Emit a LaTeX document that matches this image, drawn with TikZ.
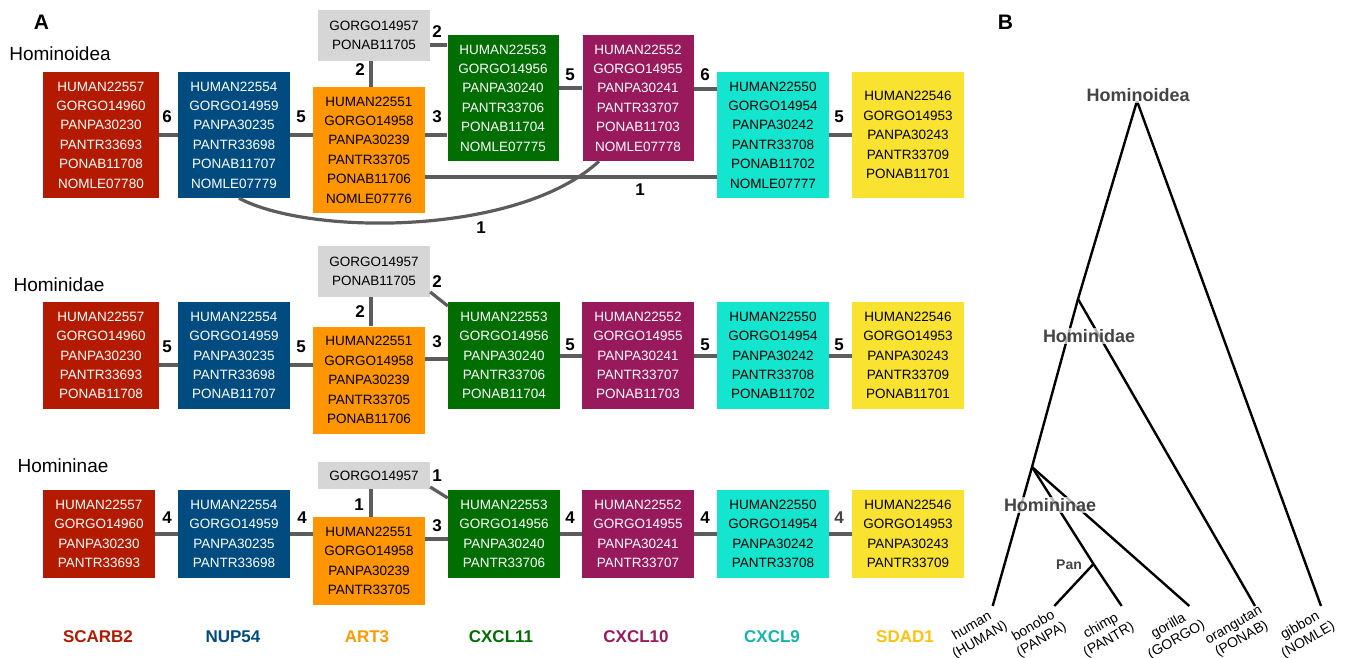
\documentclass[tikz,border=0pt]{standalone}
\usepackage{fontspec}
\setmainfont{Liberation Sans}
\usetikzlibrary{calc}
\definecolor{cRed}{HTML}{B41A00}
\definecolor{cBlue}{HTML}{004C80}
\definecolor{cOrange}{HTML}{FF9500}
\definecolor{cGreen}{HTML}{006E00}
\definecolor{cPurple}{HTML}{981A5C}
\definecolor{cCyan}{HTML}{14E5CF}
\definecolor{cYellow}{HTML}{F9E230}
\definecolor{cGray}{HTML}{D6D6D6}
\definecolor{cEdge}{HTML}{5C5C5C}
\definecolor{lCyan}{HTML}{12B5A6}
\definecolor{lYellow}{HTML}{FFC20E}
\definecolor{lOrange}{HTML}{FF9A00}
\definecolor{treeGray}{HTML}{444444}
\begin{document}
\begin{tikzpicture}[x=1pt,y=-1pt,
  box/.style={rectangle, inner sep=0pt, align=center, font=\fontsize{13.5}{19.4}\selectfont, minimum width=112pt},
  wbox/.style={box, text=white},
  kbox/.style={box, text=black},
  hsix/.style={minimum height=126pt},
  hfive/.style={minimum height=107pt},
  hfour/.style={minimum height=88pt},
  htwo/.style={minimum height=51pt},
  hone/.style={minimum height=27pt},
  edge/.style={draw=cEdge, line width=3.2pt},
  num/.style={font=\fontsize{17}{20}\selectfont\bfseries, inner sep=0pt},
  leg/.style={font=\fontsize{17}{20}\selectfont\bfseries, inner sep=0pt},
  rowtitle/.style={font=\fontsize{19}{22}\selectfont, inner sep=0pt},
  panel/.style={font=\fontsize{21}{24}\selectfont\bfseries, inner sep=0pt},
  branch/.style={line width=2.4pt, black},
  clade/.style={font=\fontsize{18}{20}\selectfont\bfseries, text=treeGray, fill=white, fill opacity=0.7, text opacity=1, inner sep=1.5pt},
  leaf/.style={font=\fontsize{14}{16}\selectfont, align=center, rotate=30, anchor=north, inner sep=0pt}
]
\useasboundingbox (0,0) rectangle (1345,657);

% panel letters and row titles
\node[panel] (pA) at (41.5,22.5) {A};
\node[panel] (pB) at (1005.5,22.5) {B};
\node[rowtitle] (t1) at (60,54) {Hominoidea};
\node[rowtitle] (t2) at (59,285) {Hominidae};
\node[rowtitle] (t3) at (63,466) {Homininae};

% ---------- Row 1: Hominoidea ----------
\node[wbox, hsix, fill=cRed, minimum width=116pt] (r1) at (101,135) {HUMAN22557\\GORGO14960\\PANPA30230\\PANTR33693\\PONAB11708\\NOMLE07780};
\node[wbox, hsix, fill=cBlue] (b1) at (234,135) {HUMAN22554\\GORGO14959\\PANPA30235\\PANTR33698\\PONAB11707\\NOMLE07779};
\node[kbox, hsix, fill=cOrange] (o1) at (369,150) {HUMAN22551\\GORGO14958\\PANPA30239\\PANTR33705\\PONAB11706\\NOMLE07776};
\node[kbox, htwo, fill=cGray] (g1) at (374,35.5) {GORGO14957\\PONAB11705};
\node[wbox, hsix, fill=cGreen, minimum width=111pt] (gr1) at (503,98) {HUMAN22553\\GORGO14956\\PANPA30240\\PANTR33706\\PONAB11704\\NOMLE07775};
\node[wbox, hsix, fill=cPurple, minimum width=111pt] (p1) at (638,98) {HUMAN22552\\GORGO14955\\PANPA30241\\PANTR33707\\PONAB11703\\NOMLE07778};
\node[kbox, hsix, fill=cCyan] (c1) at (773,135) {HUMAN22550\\GORGO14954\\PANPA30242\\PANTR33708\\PONAB11702\\NOMLE07777};
\node[kbox, hsix, fill=cYellow] (y1) at (908,135) {HUMAN22546\\GORGO14953\\PANPA30243\\PANTR33709\\PONAB11701};

\draw[edge] (r1.east |- 0,135) -- (b1.west |- 0,135);
\draw[edge] (b1.east |- 0,135) -- (o1.west |- 0,135);
\draw[edge] (o1.east |- 0,135) -- (gr1.west |- 0,135);
\draw[edge] (g1.east |- 0,45) -- (gr1.west |- 0,45);
\draw[edge] (g1.south -| 371,0) -- (o1.north -| 371,0);
\draw[edge] (gr1.east |- 0,88) -- (p1.west |- 0,88);
\draw[edge] (p1.east |- 0,89) -- (c1.west |- 0,89);
\draw[edge] (c1.east |- 0,135) -- (y1.west |- 0,135);
\draw[edge] (o1.east |- 0,177) -- (c1.west |- 0,177);
\draw[edge] (b1.south -| 239,0) .. controls (310,236) and (518,236) .. (p1.south -| 599,0);

\node[num] (n11) at (167,117) {6};
\node[num] (n12) at (301,117) {5};
\node[num] (n13) at (360,70) {2};
\node[num] (n14) at (437,117) {3};
\node[num] (n15) at (437,32) {2};
\node[num] (n16) at (570,75) {5};
\node[num] (n17) at (705,75) {6};
\node[num] (n18) at (839,117) {5};
\node[num] (n19) at (640,190) {1};
\node[num] (n110) at (481,228) {1};

% ---------- Row 2: Hominidae ----------
\node[wbox, hfive, fill=cRed, minimum width=116pt] (r2) at (101,355.5) {HUMAN22557\\GORGO14960\\PANPA30230\\PANTR33693\\PONAB11708};
\node[wbox, hfive, fill=cBlue] (b2) at (234,355.5) {HUMAN22554\\GORGO14959\\PANPA30235\\PANTR33698\\PONAB11707};
\node[kbox, hfive, fill=cOrange] (o2) at (369,380) {HUMAN22551\\GORGO14958\\PANPA30239\\PANTR33705\\PONAB11706};
\node[kbox, htwo, fill=cGray] (g2) at (374,271.5) {GORGO14957\\PONAB11705};
\node[wbox, hfive, fill=cGreen] (gr2) at (504,355.5) {HUMAN22553\\GORGO14956\\PANPA30240\\PANTR33706\\PONAB11704};
\node[wbox, hfive, fill=cPurple] (p2) at (638,355.5) {HUMAN22552\\GORGO14955\\PANPA30241\\PANTR33707\\PONAB11703};
\node[kbox, hfive, fill=cCyan] (c2) at (773,355.5) {HUMAN22550\\GORGO14954\\PANPA30242\\PANTR33708\\PONAB11702};
\node[kbox, hfive, fill=cYellow] (y2) at (908,355.5) {HUMAN22546\\GORGO14953\\PANPA30243\\PANTR33709\\PONAB11701};

\draw[edge] (r2.east |- 0,365) -- (b2.west |- 0,365);
\draw[edge] (b2.east |- 0,365) -- (o2.west |- 0,365);
\draw[edge] (o2.east |- 0,359) -- (gr2.west |- 0,359);
\draw[edge] (g2.east |- 0,292) -- (gr2.west |- 0,306);
\draw[edge] (g2.south -| 371,0) -- (o2.north -| 371,0);
\draw[edge] (gr2.east |- 0,356) -- (p2.west |- 0,356);
\draw[edge] (p2.east |- 0,356) -- (c2.west |- 0,356);
\draw[edge] (c2.east |- 0,356) -- (y2.west |- 0,356);

\node[num] (n21) at (167,347) {5};
\node[num] (n22) at (301,347) {5};
\node[num] (n23) at (360,312) {2};
\node[num] (n24) at (437,342) {3};
\node[num] (n25) at (437,282) {2};
\node[num] (n26) at (570,345) {5};
\node[num] (n27) at (705,345) {5};
\node[num] (n28) at (839,345) {5};

% ---------- Row 3: Homininae ----------
\node[wbox, hfour, fill=cRed] (r3) at (99,534) {HUMAN22557\\GORGO14960\\PANPA30230\\PANTR33693};
\node[wbox, hfour, fill=cBlue] (b3) at (234,534) {HUMAN22554\\GORGO14959\\PANPA30235\\PANTR33698};
\node[kbox, hfour, fill=cOrange] (o3) at (369,561) {HUMAN22551\\GORGO14958\\PANPA30239\\PANTR33705};
\node[kbox, hone, fill=cGray] (g3) at (374,475.5) {GORGO14957};
\node[wbox, hfour, fill=cGreen] (gr3) at (504,534) {HUMAN22553\\GORGO14956\\PANPA30240\\PANTR33706};
\node[wbox, hfour, fill=cPurple] (p3) at (638,534) {HUMAN22552\\GORGO14955\\PANPA30241\\PANTR33707};
\node[kbox, hfour, fill=cCyan] (c3) at (773,534) {HUMAN22550\\GORGO14954\\PANPA30242\\PANTR33708};
\node[kbox, hfour, fill=cYellow] (y3) at (908,534) {HUMAN22546\\GORGO14953\\PANPA30243\\PANTR33709};

\draw[edge] (r3.east |- 0,534) -- (b3.west |- 0,534);
\draw[edge] (b3.east |- 0,534) -- (o3.west |- 0,534);
\draw[edge] (o3.east |- 0,539) -- (gr3.west |- 0,539);
\draw[edge] (g3.east |- 0,487) -- (gr3.west |- 0,498);
\draw[edge] (g3.south -| 371,0) -- (o3.north -| 371,0);
\draw[edge] (gr3.east |- 0,534) -- (p3.west |- 0,534);
\draw[edge] (p3.east |- 0,534) -- (c3.west |- 0,534);
\draw[edge] (c3.east |- 0,534) -- (y3.west |- 0,534);

\node[num] (n31) at (167,518) {4};
\node[num] (n32) at (302,518) {4};
\node[num] (n33) at (359,505) {1};
\node[num] (n34) at (437,526) {3};
\node[num] (n35) at (437,476) {1};
\node[num] (n36) at (570,518) {4};
\node[num] (n37) at (705,518) {4};
\node[num, text=treeGray] (n38) at (839,518) {4};

% ---------- Legend ----------
\node[leg, text=cRed] (l1) at (98,637) {SCARB2};
\node[leg, text=cBlue] (l2) at (233,637) {NUP54};
\node[leg, text=lOrange] (l3) at (367,637) {ART3};
\node[leg, text=cGreen] (l4) at (501,637) {CXCL11};
\node[leg, text=cPurple] (l5) at (636,637) {CXCL10};
\node[leg, text=lCyan] (l6) at (772,637) {CXCL9};
\node[leg, text=lYellow] (l7) at (905,637) {SDAD1};

% ---------- Panel B: tree ----------
\coordinate (root) at (1137,101);
\coordinate (hd) at (1078,299);
\coordinate (hn) at (1032,467);
\coordinate (pan) at (1093.5,564);
\coordinate (human) at (992.7,606);
\coordinate (bonobo) at (1054.3,606);
\coordinate (chimp) at (1121.7,606);
\coordinate (gorilla) at (1189.3,606);
\coordinate (orang) at (1255,606);
\coordinate (gibbon) at (1321,606);

\draw[branch] (root) -- (hd) -- (hn) -- (human);
\draw[branch] (root) -- (gibbon);
\draw[branch] (hd) -- (orang);
\draw[branch] (hn) -- (pan) -- (chimp);
\draw[branch] (pan) -- (bonobo);
\draw[branch] (hn) -- (gorilla);

\node[clade] (cl1) at (1138,95) {Hominoidea};
\node[clade] (cl2) at (1089,336) {Hominidae};
\node[clade] (cl3) at (1050,505) {Homininae};
\node[font=\fontsize{14}{16}\selectfont\bfseries, text=treeGray, inner sep=0pt] (cl4) at (1069,565) {Pan};

\node[leaf] (lf1) at ($(human)+(-24,14.5)$) {human\\(HUMAN)};
\node[leaf] (lf2) at ($(bonobo)+(-24,14.5)$) {bonobo\\(PANPA)};
\node[leaf] (lf3) at ($(chimp)+(-24,14.5)$) {chimp\\(PANTR)};
\node[leaf] (lf4) at ($(gorilla)+(-24,14.5)$) {gorilla\\(GORGO)};
\node[leaf] (lf5) at ($(orang)+(-24,14.5)$) {orangutan\\(PONAB)};
\node[leaf] (lf6) at ($(gibbon)+(-24,14.5)$) {gibbon\\(NOMLE)};
\end{tikzpicture}
\end{document}
